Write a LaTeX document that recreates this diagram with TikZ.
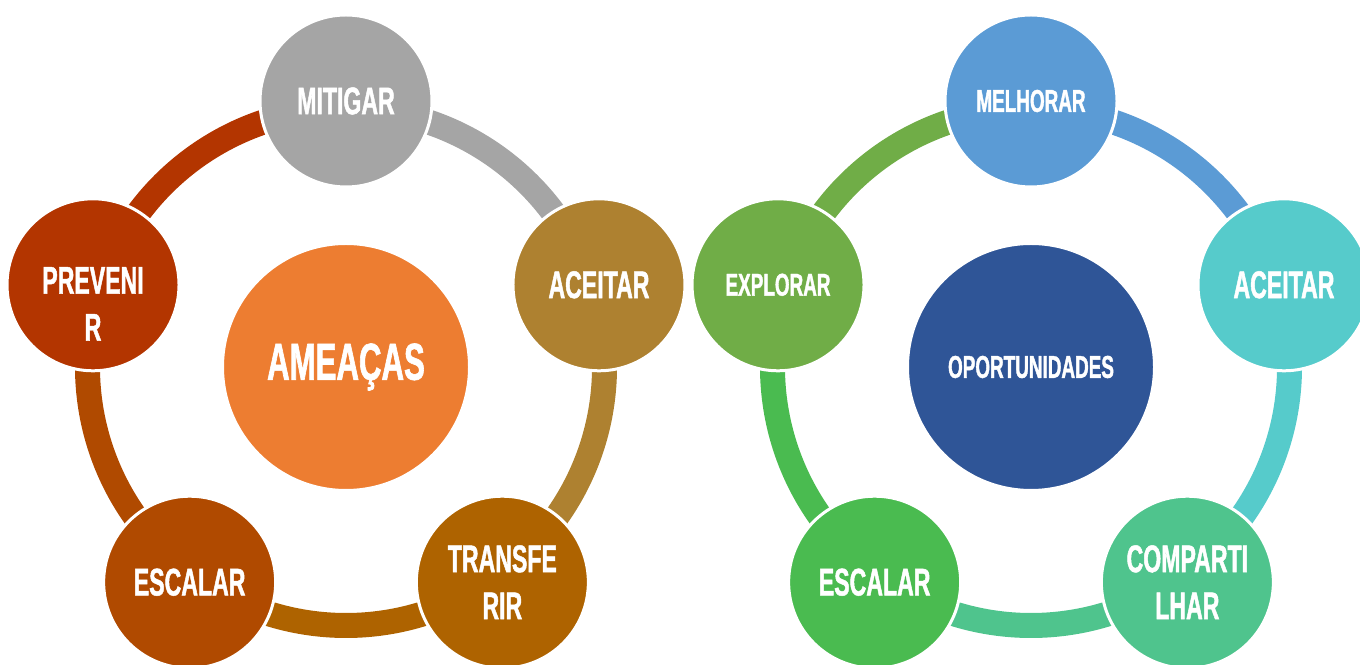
\documentclass[tikz,border=0pt]{standalone}
\usepackage{fontspec}
\newfontfamily\petalfont{Liberation Sans}[FakeStretch=0.6, FakeBold=1.2]

% Threat colours
\definecolor{ameacas}{HTML}{ED7D31}
\definecolor{mitigar}{HTML}{A5A5A5}
\definecolor{aceitarA}{HTML}{AE8130}
\definecolor{transferir}{HTML}{AE6300}
\definecolor{escalarA}{HTML}{B04A00}
\definecolor{prevenir}{HTML}{B33500}

% Opportunity colours
\definecolor{oportunidades}{HTML}{2F5597}
\definecolor{melhorar}{HTML}{5B9BD5}
\definecolor{aceitarO}{HTML}{56CBCB}
\definecolor{compartilhar}{HTML}{4FC48D}
\definecolor{escalarO}{HTML}{4ABB50}
\definecolor{explorar}{HTML}{70AD47}

\begin{document}
\begin{tikzpicture}[x=1pt, y=1pt,
  petal/.style={circle, draw=white, line width=3pt, minimum size=172pt,
    inner sep=0pt, text=white, align=center,
    font=\petalfont\bfseries\fontsize{38.5}{47}\selectfont},
  small/.style={font=\petalfont\bfseries\fontsize{31.5}{40}\selectfont},
  hub/.style={circle, draw=white, line width=3pt, minimum size=247pt,
    inner sep=0pt, text=white, align=center,
    font=\petalfont\bfseries\fontsize{52}{60}\selectfont},
  ring/.style={line width=25pt}]

  \useasboundingbox (0,0) rectangle (1360,664);

  % Centers
  \node[hub, fill=ameacas] (ameacas) at (346,297) {AMEAÇAS};
  \node[hub, fill=oportunidades, small] (oportunidades) at (1031,297) {OPORTUNIDADES};

  % Ring segments, threats
  \draw[ring, mitigar] ([shift={(90:258.5)}]ameacas.center) arc[start angle=90, end angle=18, radius=258.5];
  \draw[ring, aceitarA] ([shift={(18:258.5)}]ameacas.center) arc[start angle=18, end angle=-54, radius=258.5];
  \draw[ring, transferir] ([shift={(-54:258.5)}]ameacas.center) arc[start angle=-54, end angle=-126, radius=258.5];
  \draw[ring, escalarA] ([shift={(-126:258.5)}]ameacas.center) arc[start angle=-126, end angle=-198, radius=258.5];
  \draw[ring, prevenir] ([shift={(162:258.5)}]ameacas.center) arc[start angle=162, end angle=90, radius=258.5];

  % Ring segments, opportunities
  \draw[ring, melhorar] ([shift={(90:258.5)}]oportunidades.center) arc[start angle=90, end angle=18, radius=258.5];
  \draw[ring, aceitarO] ([shift={(18:258.5)}]oportunidades.center) arc[start angle=18, end angle=-54, radius=258.5];
  \draw[ring, compartilhar] ([shift={(-54:258.5)}]oportunidades.center) arc[start angle=-54, end angle=-126, radius=258.5];
  \draw[ring, escalarO] ([shift={(-126:258.5)}]oportunidades.center) arc[start angle=-126, end angle=-198, radius=258.5];
  \draw[ring, explorar] ([shift={(162:258.5)}]oportunidades.center) arc[start angle=162, end angle=90, radius=258.5];

  % Threat responses
  \node[petal, fill=mitigar] (mitigar) at ([shift={(90:266)}]ameacas.center) {MITIGAR};
  \node[petal, fill=aceitarA] (aceitarA) at ([shift={(18:266)}]ameacas.center) {ACEITAR};
  \node[petal, fill=transferir] (transferir) at ([shift={(-54:266)}]ameacas.center) {TRANSFE\\RIR};
  \node[petal, fill=escalarA] (escalarA) at ([shift={(-126:266)}]ameacas.center) {ESCALAR};
  \node[petal, fill=prevenir] (prevenir) at ([shift={(162:266)}]ameacas.center) {};
  \node[petal, draw=none, minimum size=0pt] (prevenirtxt) at ([yshift=-19]prevenir.center) {PREVENI\\R};

  % Opportunity responses
  \node[petal, fill=melhorar, small] (melhorar) at ([shift={(90:266)}]oportunidades.center) {MELHORAR};
  \node[petal, fill=aceitarO] (aceitarO) at ([shift={(18:266)}]oportunidades.center) {ACEITAR};
  \node[petal, fill=compartilhar] (compartilhar) at ([shift={(-54:266)}]oportunidades.center) {COMPARTI\\LHAR};
  \node[petal, fill=escalarO] (escalarO) at ([shift={(-126:266)}]oportunidades.center) {ESCALAR};
  \node[petal, fill=explorar, small] (explorar) at ([shift={(162:266)}]oportunidades.center) {EXPLORAR};

\end{tikzpicture}
\end{document}
